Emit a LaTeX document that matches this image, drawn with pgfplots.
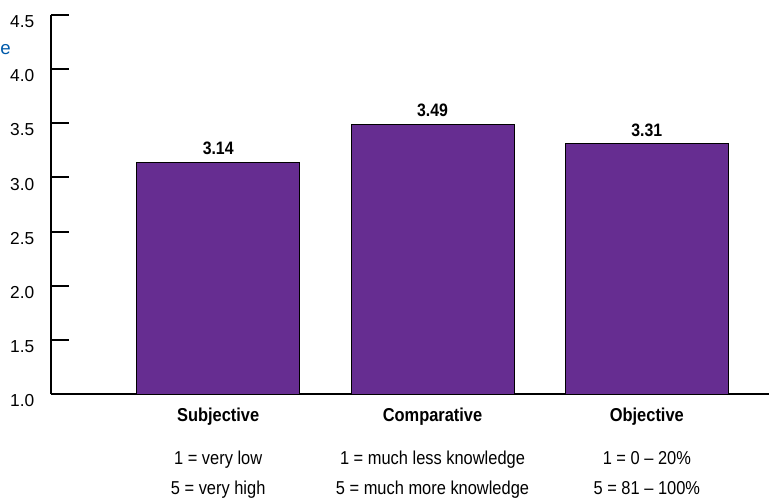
\documentclass[border=0pt]{standalone}
\usepackage{pgfplots}
\pgfplotsset{compat=1.18}
\usepackage{fontspec}
\setmainfont{Liberation Sans}
\newfontfamily\cond[FakeStretch=0.88]{Liberation Sans}
\definecolor{barpurple}{RGB}{102,45,145}
\definecolor{cutblue}{RGB}{0,90,170}

\begin{document}
\begin{tikzpicture}
% page is cut to the reference frame
\useasboundingbox (-38.25pt,-79.5pt) rectangle (538.5pt,295.5pt);
\node[anchor=west, inner sep=0pt, text=cutblue, font=\fontsize{14}{16}\selectfont]
    at (-38.25pt,258pt) {e};
\begin{axis}[
    at={(0,0)}, anchor=south west,
    scale only axis,
    width=538.5pt, height=284.25pt,
    ybar, bar width=0.76,
    xmin=-0.78, xmax=2.57,
    ymin=1, ymax=4.5,
    axis x line=bottom, axis y line=left,
    axis line style={-, line width=1.5pt},
    xtick={0,1,2},
    xticklabels={
        {\textbf{Subjective}\\[15pt]1 = very low\\[5.5pt]5 = very high},
        {\textbf{Comparative}\\[15pt]1 = much less knowledge\\[5.5pt]5 = much more knowledge},
        {\textbf{Objective}\\[15pt]1 = 0 \textendash{} 20\%\\[5.5pt]5 = 81 \textendash{} 100\%}},
    xticklabel style={align=center, anchor=north, yshift=-7pt,
        font=\cond\fontsize{14}{17}\selectfont},
    x tick style={draw=none},
    ytick={1,1.5,...,4.5},
    y tick style={line width=1.5pt, black},
    major tick length=13.5pt,
    tick align=inside,
    yticklabel style={xshift=-9pt, yshift=-5pt, font=\fontsize{13}{15}\selectfont},
    /pgf/number format/assume math mode=true,
    yticklabel={\pgfmathprintnumber[fixed,fixed zerofill,precision=1]{\tick}},
    nodes near coords={\pgfmathprintnumber[fixed,fixed zerofill,precision=2]{\pgfplotspointmeta}},
    nodes near coords style={font=\cond\bfseries\fontsize{13.5}{16}\selectfont, anchor=south, yshift=2pt},
]
\addplot[fill=barpurple, draw=black, line width=0.6pt] coordinates {
    (0,3.14) (1,3.49) (2,3.31)
};
\end{axis}
\end{tikzpicture}
\end{document}
